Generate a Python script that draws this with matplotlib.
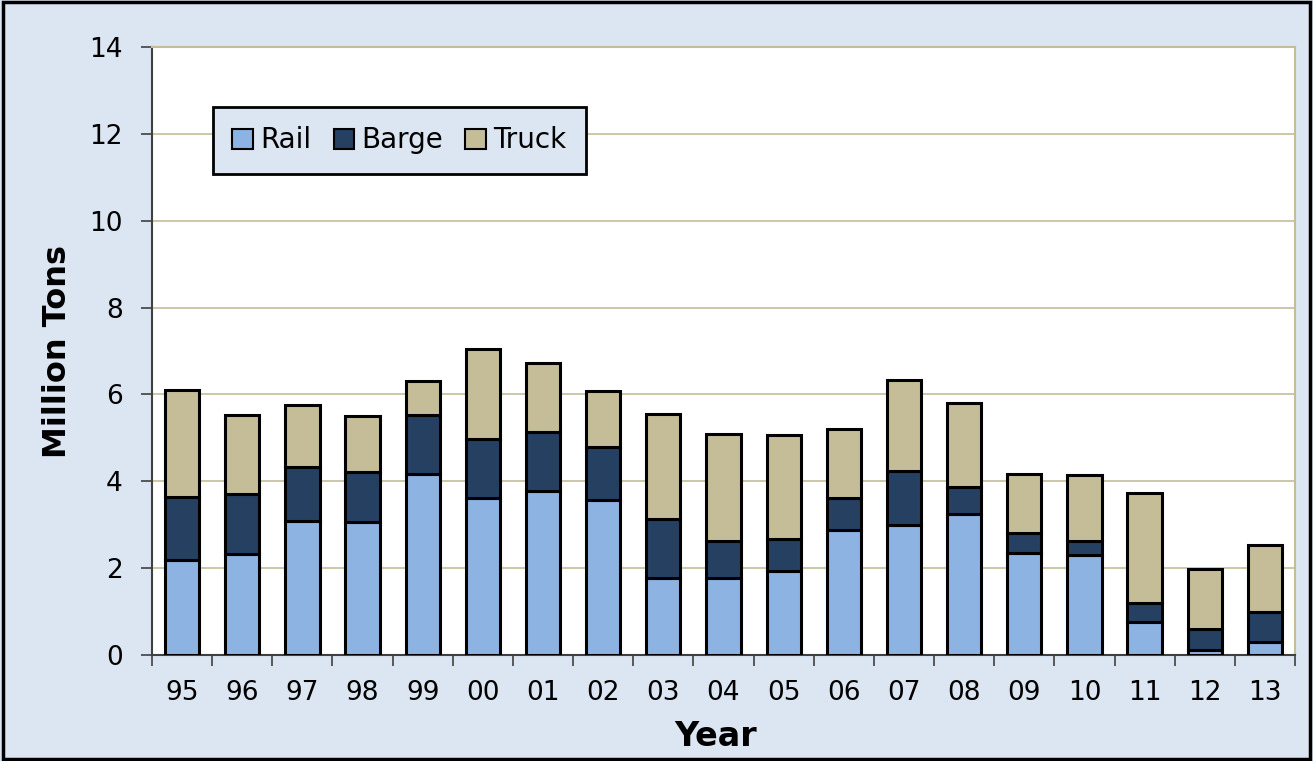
import matplotlib
matplotlib.use("Agg")
import matplotlib.pyplot as plt
import numpy as np
from matplotlib.patches import Rectangle

years = ["95", "96", "97", "98", "99", "00", "01", "02", "03", "04",
         "05", "06", "07", "08", "09", "10", "11", "12", "13"]
rail = [2.19, 2.33, 3.09, 3.06, 4.17, 3.62, 3.78, 3.57, 1.77, 1.77,
        1.93, 2.88, 2.99, 3.25, 2.35, 2.30, 0.76, 0.12, 0.30]
barge = [1.45, 1.38, 1.24, 1.15, 1.36, 1.35, 1.35, 1.22, 1.36, 0.85,
         0.74, 0.73, 1.25, 0.62, 0.46, 0.32, 0.44, 0.48, 0.69]
truck = [2.46, 1.82, 1.43, 1.29, 0.78, 2.08, 1.59, 1.29, 2.42, 2.47,
         2.40, 1.59, 2.09, 1.93, 1.36, 1.52, 2.53, 1.38, 1.54]

bg = "#DCE6F2"
c_rail = "#8DB3E2"
c_barge = "#254061"
c_truck = "#C4BD97"
grid_c = "#C4BD97"

fig = plt.figure(figsize=(13.13, 7.61), dpi=100, facecolor=bg)
fig.patches.append(Rectangle((0.002, 0.002), 0.996, 0.996, transform=fig.transFigure,
                             fill=False, edgecolor="black", linewidth=2.5))
ax = fig.add_axes([152 / 1313, 1 - 655 / 761, (1295 - 152) / 1313, (655 - 47) / 761])
ax.set_facecolor("white")

x = np.arange(len(years))
w = 0.57
rail_a = np.array(rail)
barge_a = np.array(barge)
truck_a = np.array(truck)
ax.bar(x, rail_a, w, color=c_rail, edgecolor="black", linewidth=2.2, label="Rail", zorder=3)
ax.bar(x, barge_a, w, bottom=rail_a, color=c_barge, edgecolor="black", linewidth=2.2, label="Barge", zorder=3)
ax.bar(x, truck_a, w, bottom=rail_a + barge_a, color=c_truck, edgecolor="black", linewidth=2.2, label="Truck", zorder=3)

ax.set_xlim(-0.5, len(years) - 0.5)
ax.set_ylim(0, 14)
ax.set_yticks(np.arange(0, 15, 2))
ax.yaxis.grid(True, color=grid_c, linewidth=1.2, zorder=0)
ax.set_axisbelow(True)

ax.set_xticks(x)
ax.set_xticklabels(years, fontsize=19)
ax.set_xticks(np.arange(-0.5, len(years)), minor=True)
ax.tick_params(axis="x", which="major", length=0, pad=18)
ax.tick_params(axis="x", which="minor", length=8, width=1.2, color="#404040")
ax.tick_params(axis="y", labelsize=19, length=8, width=1.2, color="#404040", pad=13)

for s in ["left", "bottom"]:
    ax.spines[s].set_color("#404040")
    ax.spines[s].set_linewidth(1.5)
for s in ["top", "right"]:
    ax.spines[s].set_color(grid_c)
    ax.spines[s].set_linewidth(1.5)

ax.set_ylabel("Million Tons", fontsize=23, fontweight="bold", labelpad=12)
ax.set_xlabel("Year", fontsize=24, fontweight="bold")
ax.xaxis.set_label_coords((716 - 152) / 1143, -0.107, transform=ax.transAxes)
ax.xaxis.label.set_verticalalignment("top")

leg = ax.legend(loc="upper left", bbox_to_anchor=((213 - 152) / 1143, 1 - (107 - 47) / 608),
                ncol=3, fontsize=20, frameon=True, fancybox=False, handlelength=0.75,
                handleheight=0.75, handletextpad=0.25, columnspacing=0.8, borderpad=0.7,
                borderaxespad=0)
leg.get_frame().set_facecolor(bg)
leg.get_frame().set_edgecolor("black")
leg.get_frame().set_linewidth(2)
leg.get_frame().set_alpha(1)
for h in leg.legend_handles:
    h.set_linewidth(1.5)

fig.savefig("out.png", dpi=100, facecolor=bg)
